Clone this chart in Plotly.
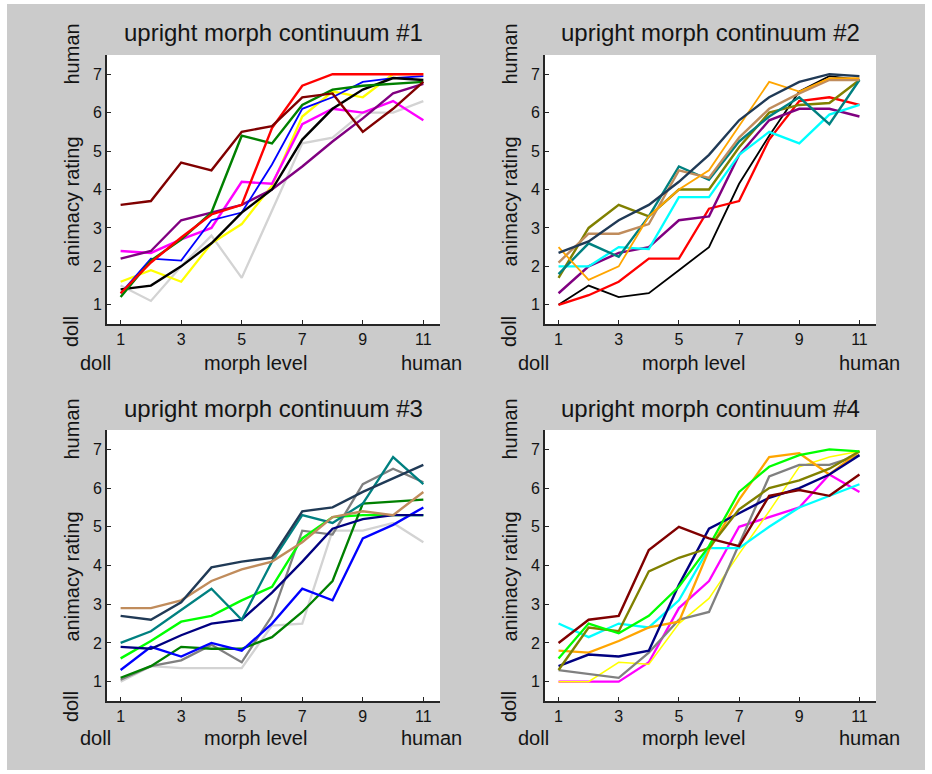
import plotly.graph_objects as go

W, H = 932, 774

morph = list(range(1, 12))
x_ticks = [1, 3, 5, 7, 9, 11]
y_ticks = [1, 2, 3, 4, 5, 6, 7]

# ---- continuum #1 ----
c1_lightgray = [1.5, 1.1, 2.0, 2.8, 1.7, 3.45, 5.2, 5.35, 6.0, 6.0, 6.3]
c1_yellow = [1.6, 1.9, 1.6, 2.6, 3.1, 4.1, 5.9, 6.55, 6.4, 7.0, 7.0]
c1_magenta = [2.4, 2.35, 2.7, 3.0, 4.2, 4.15, 5.7, 6.1, 6.0, 6.3, 5.8]
c1_purple = [2.2, 2.4, 3.2, 3.4, 3.6, 4.0, 4.6, 5.25, 5.85, 6.5, 6.75]
c1_blue = [1.3, 2.2, 2.15, 3.2, 3.4, 4.65, 6.1, 6.4, 6.8, 6.9, 6.95]
c1_black = [1.4, 1.5, 2.0, 2.6, 3.4, 4.0, 5.3, 6.1, 6.6, 6.9, 6.85]
c1_green = [1.2, 2.15, 2.7, 3.4, 5.4, 5.2, 6.2, 6.6, 6.7, 6.75, 6.8]
c1_red = [1.3, 2.1, 2.75, 3.35, 3.6, 5.6, 6.7, 7.0, 7.0, 7.0, 7.0]
c1_maroon = [3.6, 3.7, 4.7, 4.5, 5.5, 5.65, 6.4, 6.5, 5.5, 6.1, 6.8]

# ---- continuum #2 ----
c2_black = [1.0, 1.5, 1.2, 1.3, 1.9, 2.5, 4.15, 5.4, 6.55, 6.95, 6.85]
c2_red = [1.0, 1.25, 1.6, 2.2, 2.2, 3.5, 3.7, 5.3, 6.3, 6.4, 6.2]
c2_purple = [1.3, 2.0, 2.35, 2.5, 3.2, 3.3, 4.9, 5.8, 6.1, 6.1, 5.9]
c2_cyan = [2.0, 2.0, 2.5, 2.45, 3.8, 3.8, 4.9, 5.5, 5.2, 5.95, 6.2]
c2_olive = [1.7, 3.0, 3.6, 3.3, 4.0, 4.0, 5.1, 6.0, 6.2, 6.25, 6.85]
c2_teal = [1.8, 2.6, 2.25, 3.3, 4.6, 4.25, 5.25, 5.9, 6.4, 5.7, 6.85]
c2_tan = [2.1, 2.85, 2.85, 3.1, 4.5, 4.3, 5.35, 6.1, 6.5, 6.85, 6.85]
c2_orange = [2.5, 1.65, 2.0, 3.3, 4.0, 4.5, 5.65, 6.8, 6.55, 6.9, 6.9]
c2_slate = [2.35, 2.65, 3.2, 3.6, 4.2, 4.9, 5.8, 6.4, 6.8, 7.0, 6.95]

# ---- continuum #3 ----
c3_lightgray = [1.0, 1.4, 1.35, 1.35, 1.35, 2.45, 2.5, 4.9, 4.9, 5.1, 4.6]
c3_gray = [1.05, 1.4, 1.55, 1.95, 1.5, 2.7, 4.9, 4.8, 6.1, 6.5, 6.15]
c3_lime = [1.6, 2.05, 2.55, 2.7, 3.1, 3.45, 4.7, 5.25, 5.3, 5.3, 5.3]
c3_green = [1.1, 1.4, 1.9, 1.85, 1.85, 2.15, 2.8, 3.6, 5.6, 5.65, 5.7]
c3_blue = [1.3, 1.9, 1.65, 2.0, 1.8, 2.5, 3.4, 3.1, 4.7, 5.05, 5.5]
c3_navy = [1.9, 1.85, 2.2, 2.5, 2.6, 3.3, 4.1, 4.95, 5.2, 5.3, 5.3]
c3_teal = [2.0, 2.3, 2.85, 3.4, 2.6, 4.1, 5.3, 5.1, 5.6, 6.8, 6.1]
c3_tan = [2.9, 2.9, 3.1, 3.6, 3.9, 4.1, 4.6, 5.25, 5.4, 5.3, 5.9]
c3_slate = [2.7, 2.6, 3.05, 3.95, 4.1, 4.2, 5.4, 5.5, 5.9, 6.25, 6.6]

# ---- continuum #4 ----
c4_magenta = [1.0, 1.0, 1.0, 1.5, 2.9, 3.6, 5.0, 5.25, 5.5, 6.35, 5.9]
c4_yellow = [1.0, 1.0, 1.5, 1.45, 2.5, 3.15, 4.3, 5.4, 6.55, 6.8, 6.95]
c4_gray = [1.3, 1.2, 1.1, 1.75, 2.6, 2.8, 4.55, 6.3, 6.6, 6.6, 6.85]
c4_cyan = [2.5, 2.15, 2.5, 2.4, 3.1, 4.45, 4.45, 5.0, 5.5, 5.8, 6.1]
c4_orange = [1.8, 1.75, 2.05, 2.4, 2.55, 4.4, 5.7, 6.8, 6.9, 6.35, 6.95]
c4_navy = [1.4, 1.7, 1.65, 1.8, 3.5, 4.95, 5.35, 5.75, 6.0, 6.35, 6.85]
c4_olive = [1.3, 2.4, 2.3, 3.85, 4.2, 4.45, 5.45, 6.0, 6.2, 6.5, 6.95]
c4_lime = [1.6, 2.5, 2.25, 2.7, 3.45, 4.5, 5.9, 6.55, 6.85, 7.0, 6.95]
c4_maroon = [2.0, 2.6, 2.7, 4.4, 5.0, 4.7, 4.5, 5.8, 5.95, 5.8, 6.35]

titles = ["upright morph continuum #1", "upright morph continuum #2",
          "upright morph continuum #3", "upright morph continuum #4"]

MAROON, RED, BLUE, GREEN = "#800000", "#ff0000", "#0000ff", "#008000"
MAGENTA, PURPLE, YELLOW, BLACK = "#ff00ff", "#800080", "#ffff00", "#000000"
LIGHTGRAY, GRAY, CYAN, TEAL = "#d3d3d3", "#808080", "#00ffff", "#008080"
OLIVE, ORANGE, TAN, SLATE = "#808000", "#ffa500", "#c08c5c", "#203a56"
LIME, NAVY = "#00ff00", "#000080"

panels = [
    [(c1_lightgray, LIGHTGRAY, 2.3), (c1_yellow, YELLOW, 2.3), (c1_magenta, MAGENTA, 2.4),
     (c1_purple, PURPLE, 2.4), (c1_blue, BLUE, 1.8), (c1_black, BLACK, 2.4),
     (c1_green, GREEN, 2.4), (c1_red, RED, 2.4), (c1_maroon, MAROON, 2.4)],
    [(c2_black, BLACK, 1.8), (c2_red, RED, 2.3), (c2_purple, PURPLE, 2.4),
     (c2_cyan, CYAN, 2.3), (c2_olive, OLIVE, 2.4), (c2_teal, TEAL, 2.4),
     (c2_tan, TAN, 2.4), (c2_orange, ORANGE, 1.8), (c2_slate, SLATE, 2.4)],
    [(c3_lightgray, LIGHTGRAY, 2.3), (c3_gray, GRAY, 2.3), (c3_lime, LIME, 2.4),
     (c3_green, GREEN, 2.3), (c3_blue, BLUE, 2.3), (c3_navy, NAVY, 2.3),
     (c3_teal, TEAL, 2.3), (c3_tan, TAN, 2.4), (c3_slate, SLATE, 2.4)],
    [(c4_magenta, MAGENTA, 2.3), (c4_yellow, YELLOW, 1.5), (c4_gray, GRAY, 2.3),
     (c4_cyan, CYAN, 2.3), (c4_orange, ORANGE, 2.3), (c4_navy, NAVY, 2.4),
     (c4_olive, OLIVE, 2.4), (c4_lime, LIME, 2.3), (c4_maroon, MAROON, 2.4)],
]

# pixel boxes of the four axes: (left, right, top, bottom)
boxes = [(107, 440, 55, 324), (545, 876, 55, 324),
         (107, 440, 430, 701), (545, 876, 430, 701)]


def fx(px):
    return px / W


def fy(py):
    return 1 - py / H


FONT = "Liberation Sans, Arial, sans-serif"
INK = "#141414"
AXIS = "#262626"

fig = go.Figure()
annotations = []

for i, (series, box) in enumerate(zip(panels, boxes)):
    n = "" if i == 0 else str(i + 1)
    xa, ya = "x" + n, "y" + n
    for vals, color, width in series:
        fig.add_trace(go.Scatter(x=morph, y=vals, mode="lines", xaxis=xa, yaxis=ya,
                                 line=dict(color=color, width=width),
                                 showlegend=False, hoverinfo="skip"))
    left, right, top, bottom = box
    common = dict(showline=True, linecolor=AXIS, linewidth=2, mirror=False,
                  ticks="inside", ticklen=4, tickwidth=1, tickcolor=AXIS,
                  showgrid=False, zeroline=False,
                  tickfont=dict(family=FONT, size=16, color=INK))
    fig.layout["xaxis" + n] = dict(domain=[fx(left), fx(right)], range=[0.55, 11.55],
                                   tickvals=x_ticks, anchor=ya, **common)
    fig.layout["yaxis" + n] = dict(domain=[fy(bottom), fy(top)], range=[0.5, 7.5],
                                   tickvals=y_ticks, anchor=xa, **common)

    dx = left - 107
    dy = top - 55
    txt = dict(family=FONT, size=20, color=INK)
    annotations += [
        dict(text=titles[i], x=fx((left + right) / 2), y=fy(33 + dy),
             font=dict(family=FONT, size=24, color=INK)),
        dict(text="doll", x=fx(95.5 + dx), y=fy(363 + dy), font=txt),
        dict(text="morph level", x=fx(255.5 + dx), y=fy(363 + dy), font=txt),
        dict(text="human", x=fx(431 + dx), y=fy(363 + dy), font=txt),
        dict(text="human", x=fx(71.5 + dx), y=fy(54 + dy), textangle=-90, font=txt),
        dict(text="animacy rating", x=fx(71.5 + dx), y=fy(202 + dy), textangle=-90, font=txt),
        dict(text="doll", x=fx(71 + dx), y=fy(332 + dy), textangle=-90, font=txt),
    ]

for a in annotations:
    a.update(xref="paper", yref="paper", showarrow=False,
             xanchor="center", yanchor="middle")

# thin white frame around the grey figure area
frame = [(0, 0, W, 4), (0, H - 4, W, H), (0, 0, 7, H), (W - 7, 0, W, H)]
shapes = [dict(type="rect", xref="paper", yref="paper",
               x0=fx(a), x1=fx(c), y0=fy(d), y1=fy(b),
               fillcolor="white", line=dict(width=0), layer="above")
          for a, b, c, d in frame]

fig.update_layout(width=W, height=H, margin=dict(l=0, r=0, t=0, b=0),
                  paper_bgcolor="#cbcbcb", plot_bgcolor="white",
                  annotations=annotations, shapes=shapes,
                  font=dict(family=FONT, color=INK))

fig.write_html("out.html")
